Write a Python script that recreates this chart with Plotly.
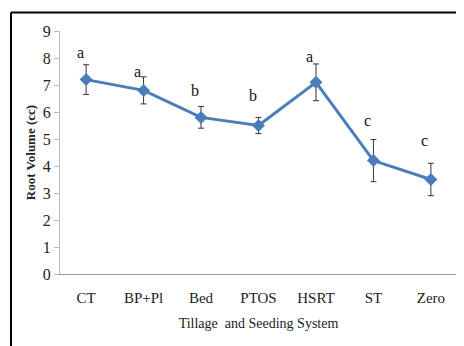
import plotly.graph_objects as go

categories = ["CT", "BP+Pl", "Bed", "PTOS", "HSRT", "ST", "Zero"]
root_volume = [7.2, 6.8, 5.8, 5.5, 7.1, 4.2, 3.5]
error_vals = [0.55, 0.5, 0.4, 0.3, 0.68, 0.78, 0.6]
letters = ["a", "a", "b", "b", "a", "c", "c"]
letter_y = [8.2, 7.5, 6.8, 6.6, 8.05, 5.7, 4.95]

OFF = 8  # page body offset
W, H = 464 - OFF, 346 - OFF
L, R, T, B = 60 - OFF, 7, 31 - OFF, 72
pw, ph = W - L - R, H - T - B

fig = go.Figure()
fig.add_trace(go.Scatter(
    x=categories, y=root_volume, mode="lines+markers",
    line=dict(color="#4a7ebb", width=3),
    marker=dict(symbol="diamond", size=10, color="#4a7ebb"),
    error_y=dict(type="data", array=error_vals, visible=True,
                 color="#333333", thickness=1, width=3),
    showlegend=False,
))

for c, t, yy in zip(categories, letters, letter_y):
    fig.add_annotation(x=c, y=yy, text=t, showarrow=False, xshift=-6,
                       font=dict(family="Liberation Serif", size=16, color="#111"))

fl = (11 - OFF - L) / pw
ft = 1 + (T - (12.5 - OFF)) / ph
fig.add_shape(type="line", xref="paper", yref="paper", x0=fl, x1=1.2, y0=ft, y1=ft,
              line=dict(color="black", width=2))
fig.add_shape(type="line", xref="paper", yref="paper", x0=fl, x1=fl, y0=ft, y1=-0.5,
              line=dict(color="black", width=2))

fig.update_layout(
    width=W, height=H,
    margin=dict(l=L, r=R, t=T, b=B),
    paper_bgcolor="white", plot_bgcolor="white",
    font=dict(family="Liberation Serif", size=14, color="#222"),
    xaxis=dict(
        showline=True, linecolor="#999", linewidth=1, showgrid=False,
        ticks="outside", ticklen=10, tickcolor="rgba(0,0,0,0)",
        tickfont=dict(size=15),
        title=dict(text="Tillage  and Seeding System", font=dict(size=14), standoff=13),
    ),
    yaxis=dict(
        range=[0, 9], dtick=1, showline=True, linecolor="#bbb", linewidth=1,
        showgrid=False, ticks="outside", ticklen=5, tickcolor="#bbb",
        tickfont=dict(size=16), zeroline=False,
        title=dict(text="<b>Root Volume (cc)</b>", font=dict(size=13), standoff=4),
    ),
)

fig.write_html("out.html")
